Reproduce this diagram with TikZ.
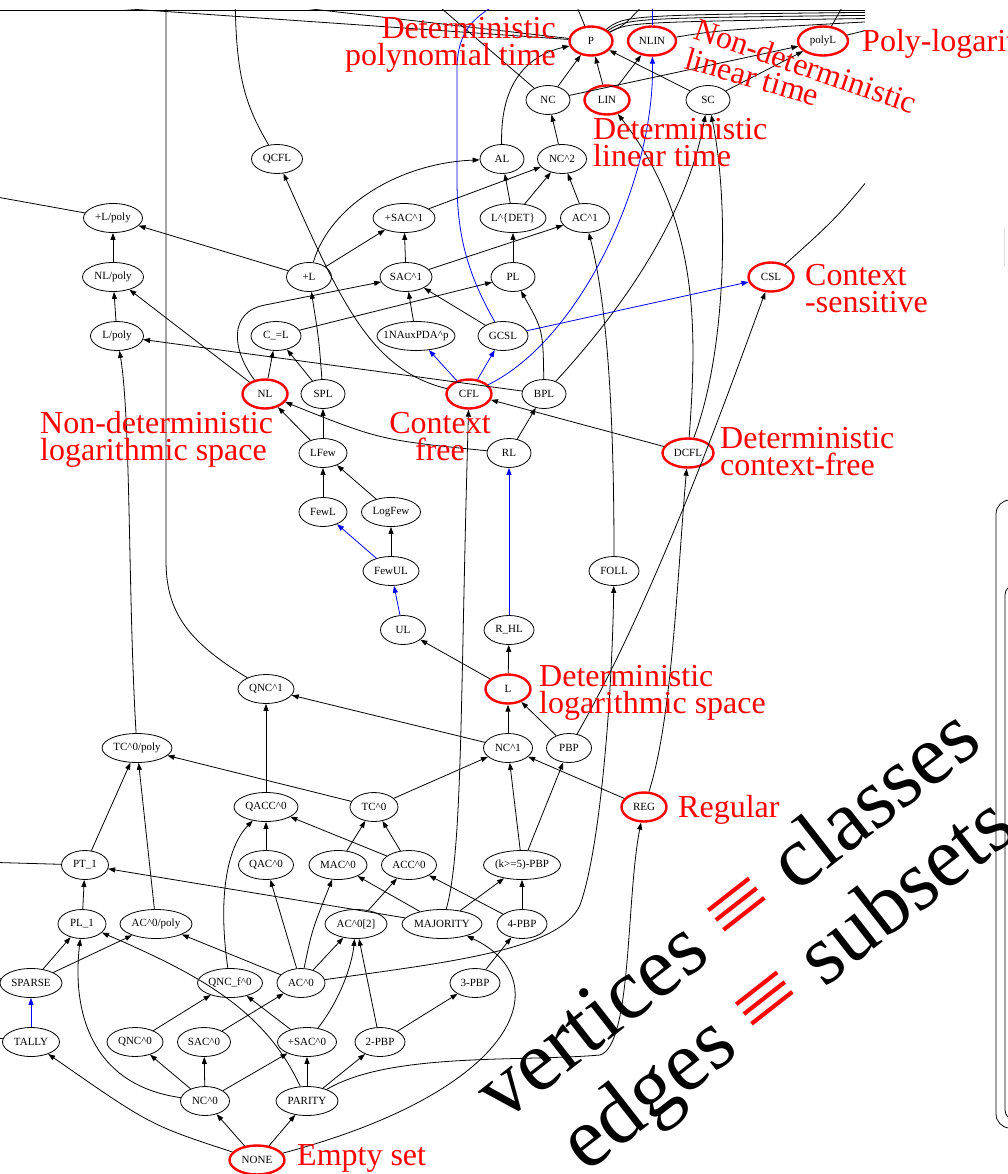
\documentclass[tikz,border=0pt]{standalone}
\usepackage{fontspec}
\setmainfont{Liberation Serif}
\usetikzlibrary{shapes.geometric,arrows.meta}
\newcommand{\caret}{\textasciicircum}
\newcommand{\redeq}{\textcolor{red}{\scalebox{1.3}[1]{≡}}}
\tikzset{
  subarrow/.style={-{Triangle[length=7pt,width=5pt]}, line width=0.8pt},
  bluearrow/.style={subarrow, draw=blue},
  stub/.style={line width=0.8pt},
  classnode/.style={draw, ellipse, line width=0.8pt, minimum height=29pt, inner xsep=-12pt, inner ysep=-4pt, font=\fontsize{11}{13}\selectfont},
  keyclass/.style={classnode, draw=red, line width=2.4pt},
  redlabel/.style={text=red, inner sep=0pt, font=\fontsize{32}{27}\selectfont},
  bigtext/.style={inner sep=0pt, rotate=38, anchor=base west, font=\fontsize{86}{86}\selectfont}
}
\begin{document}
\begin{tikzpicture}[x=1pt, y=-1pt]
  \useasboundingbox (0,0) rectangle (1008,1174);
  % classes, top to bottom
  \node[keyclass, minimum width=43pt] (p) at (591,41) {P};
  \node[keyclass, minimum width=48pt] (nlin) at (652,41) {NLIN};
  \node[keyclass, minimum width=50pt] (polyl) at (823,41) {polyL};
  \node[classnode, minimum width=44pt] (nc) at (548,100) {NC};
  \node[keyclass, minimum width=45pt] (lin) at (607,100) {LIN};
  \node[classnode, minimum width=44pt] (sc) at (708,100) {SC};
  \node[classnode, minimum width=51pt] (qcfl) at (277,159) {QCFL};
  \node[classnode, minimum width=44pt] (al) at (502,159) {AL};
  \node[classnode, minimum width=49pt] (nctwo) at (562,159) {NC\caret2};
  \node[classnode, minimum width=59pt] (plpoly) at (113,218) {+L/poly};
  \node[classnode, minimum width=62pt] (psacone) at (404,218) {+SAC\caret1};
  \node[classnode, minimum width=66pt] (ldet) at (513,218) {L\caret\{DET\}};
  \node[classnode, minimum width=49pt] (acone) at (585,218) {AC\caret1};
  \node[classnode, minimum width=61pt] (nlpoly) at (113,277) {NL/poly};
  \node[classnode, minimum width=45pt] (plusl) at (309,277) {+L};
  \node[classnode, minimum width=52pt] (sacone) at (406,277) {SAC\caret1};
  \node[classnode, minimum width=44pt] (pl) at (513,277) {PL};
  \node[keyclass, minimum width=45pt] (csl) at (771,277) {CSL};
  \node[classnode, minimum width=53pt] (lpoly) at (117,336) {L/poly};
  \node[classnode, minimum width=50pt] (ceql) at (276,336) {C\_=L};
  \node[classnode, minimum width=78pt] (onenaux) at (416,336) {1NAuxPDA\caret p};
  \node[classnode, minimum width=50pt] (gcsl) at (503,336) {GCSL};
  \node[keyclass, minimum width=45pt] (nl) at (265,394) {NL};
  \node[classnode, minimum width=44pt] (spl) at (323,394) {SPL};
  \node[keyclass, minimum width=45pt] (cfl) at (469,394) {CFL};
  \node[classnode, minimum width=44pt] (bpl) at (544,394) {BPL};
  \node[classnode, minimum width=48pt] (lfew) at (323,453) {LFew};
  \node[classnode, minimum width=44pt] (rl) at (509,453) {RL};
  \node[keyclass, minimum width=51pt] (dcfl) at (688,453) {DCFL};
  \node[classnode, minimum width=48pt] (fewl) at (323,512) {FewL};
  \node[classnode, minimum width=59pt] (logfew) at (391,512) {LogFew};
  \node[classnode, minimum width=56pt] (fewul) at (391,571) {FewUL};
  \node[classnode, minimum width=50pt] (foll) at (614,571) {FOLL};
  \node[classnode, minimum width=45pt] (ul) at (403,630) {UL};
  \node[classnode, minimum width=50pt] (rhl) at (509,630) {R\_HL};
  \node[classnode, minimum width=56pt] (qncone) at (266,689) {QNC\caret1};
  \node[keyclass, minimum width=45pt] (l) at (508,689) {L};
  \node[classnode, minimum width=70pt] (tczpoly) at (137,748) {TC\caret0/poly};
  \node[classnode, minimum width=49pt] (ncone) at (508,748) {NC\caret1};
  \node[classnode, minimum width=45pt] (pbp) at (569,748) {PBP};
  \node[classnode, minimum width=64pt] (qacczero) at (266,807) {QACC\caret0};
  \node[classnode, minimum width=48pt] (tczero) at (374,807) {TC\caret0};
  \node[keyclass, minimum width=45pt] (reg) at (644,807) {REG};
  \node[classnode, minimum width=47pt] (ptone) at (85,865) {PT\_1};
  \node[classnode, minimum width=55pt] (qaczero) at (266,865) {QAC\caret0};
  \node[classnode, minimum width=58pt] (maczero) at (338,865) {MAC\caret0};
  \node[classnode, minimum width=55pt] (acczero) at (409,865) {ACC\caret0};
  \node[classnode, minimum width=77pt] (kpbp) at (522,865) {(k>=5)-PBP};
  \node[classnode, minimum width=48pt] (plone) at (82,924) {PL\_1};
  \node[classnode, minimum width=72pt] (aczpoly) at (156,924) {AC\caret0/poly};
  \node[classnode, minimum width=62pt] (aczt) at (356,924) {AC\caret0[2]};
  \node[classnode, minimum width=80pt] (majority) at (442,924) {MAJORITY};
  \node[classnode, minimum width=50pt] (pbpfour) at (522,924) {4-PBP};
  \node[classnode, minimum width=62pt] (sparse) at (31,983) {SPARSE};
  \node[classnode, minimum width=65pt] (qncfz) at (230,983) {QNC\_f\caret0};
  \node[classnode, minimum width=48pt] (aczero) at (301,983) {AC\caret0};
  \node[classnode, minimum width=50pt] (pbpthree) at (475,983) {3-PBP};
  \node[classnode, minimum width=57pt] (tally) at (31,1042) {TALLY};
  \node[classnode, minimum width=56pt] (qnczero) at (135,1042) {QNC\caret0};
  \node[classnode, minimum width=53pt] (saczero) at (204,1042) {SAC\caret0};
  \node[classnode, minimum width=59pt] (psaczero) at (307,1042) {+SAC\caret0};
  \node[classnode, minimum width=50pt] (pbptwo) at (380,1042) {2-PBP};
  \node[classnode, minimum width=49pt] (nczero) at (205,1101) {NC\caret0};
  \node[classnode, minimum width=62pt] (parity) at (307,1101) {PARITY};
  \node[keyclass, minimum width=55pt] (none) at (257,1160) {NONE};
  % free ends beyond the crop
  \coordinate (topq) at (166,-20);
  \coordinate (topqcfl) at (235,-20);
  \coordinate (topnc) at (420,-10);
  \coordinate (pfar) at (0,0);
  \coordinate (pnear) at (233,0);
  \coordinate (ptop) at (570,-10);
  \coordinate (pup) at (652,-5);
  \coordinate (pra) at (900,12);
  \coordinate (prb) at (900,15);
  \coordinate (prc) at (900,18);
  \coordinate (nlinr) at (900,20);
  \coordinate (nlinup) at (652,-10);
  \coordinate (polyup) at (852,-10);
  \coordinate (polyr) at (900,22);
  \coordinate (cslr) at (900,140);
  \coordinate (gcslup) at (505,0);
  \coordinate (plpolyl) at (-20,194);
  \coordinate (ptonel) at (-20,862);
  \coordinate (sparsel) at (-20,976);
  \coordinate (tallyl) at (-20,1036);
  \begin{scope}
    \clip (0,10) rectangle (865,1174);
    % bottom rows
    \draw[subarrow] (none) .. controls (150,1125) .. (tally);
    \draw[subarrow] (none) -- (nczero);
    \draw[subarrow] (none) -- (parity);
    \draw[subarrow] (none) .. controls (520,1090) and (560,980) .. (majority);
    \draw[bluearrow] (tally) -- (sparse);
    \draw[subarrow] (sparse) -- (plone);
    \draw[subarrow] (sparse) -- (aczpoly);
    \draw[subarrow] (nczero) -- (qnczero);
    \draw[subarrow] (nczero) -- (saczero);
    \draw[subarrow] (nczero) -- (psaczero);
    \draw[subarrow] (nczero) .. controls (90,1085) and (72,1010) .. (plone);
    \draw[subarrow] (parity) -- (psaczero);
    \draw[subarrow] (parity) -- (pbptwo);
    \draw[subarrow] (parity) .. controls (265,1010) and (200,975) .. (plone);
    \draw[subarrow] (parity) .. controls (390,1052) and (520,1062) .. (600,1055) .. controls (632,1045) and (626,900) .. (reg);
    \draw[subarrow] (qnczero) -- (qncfz);
    \draw[subarrow] (saczero) -- (aczero);
    \draw[subarrow] (psaczero) -- (qncfz);
    \draw[subarrow] (psaczero) .. controls (340,1000) and (352,965) .. (aczt);
    \draw[subarrow] (pbptwo) -- (aczt);
    \draw[subarrow] (pbptwo) -- (pbpthree);
    \draw[subarrow] (pbpthree) -- (pbpfour);
    \draw[subarrow] (pbpfour) -- (kpbp);
    \draw[subarrow] (pbpfour) -- (acczero);
    \draw[subarrow] (aczero) -- (aczpoly);
    \draw[subarrow] (aczero) -- (qaczero);
    \draw[subarrow] (aczero) .. controls (312,930) .. (maczero);
    \draw[subarrow] (aczero) -- (aczt);
    \draw[subarrow] (aczero) .. controls (450,962) and (560,950) .. (580,905) .. controls (600,850) and (612,700) .. (foll);
    \draw[subarrow] (qncfz) .. controls (218,900) and (226,848) .. (qacczero);
    \draw[subarrow] (qaczero) -- (qacczero);
    \draw[subarrow] (acczero) -- (qacczero);
    \draw[subarrow] (maczero) -- (tczero);
    \draw[subarrow] (acczero) -- (tczero);
    \draw[subarrow] (aczt) -- (acczero);
    \draw[subarrow] (majority) -- (ptone);
    \draw[subarrow] (majority) -- (maczero);
    \draw[subarrow] (majority) -- (kpbp);
    \draw[subarrow] (majority) .. controls (463,850) and (460,700) .. (cfl);
    \draw[subarrow] (plone) -- (ptone);
    \draw[subarrow] (ptone) -- (tczpoly);
    \draw[subarrow] (aczpoly) -- (tczpoly);
    \draw[subarrow] (tczero) -- (tczpoly);
    \draw[subarrow] (tczero) -- (ncone);
    \draw[subarrow] (qacczero) -- (qncone);
    \draw[subarrow] (kpbp) -- (ncone);
    \draw[subarrow] (kpbp) -- (pbp);
    \draw[subarrow] (reg) -- (ncone);
    \draw[subarrow] (reg) .. controls (672,720) and (677,580) .. (dcfl);
    \draw[subarrow] (pbp) .. controls (660,590) and (740,360) .. (csl);
    % middle rows
    \draw[subarrow] (ncone) -- (qncone);
    \draw[subarrow] (ncone) -- (l);
    \draw[subarrow] (pbp) -- (l);
    \draw[subarrow] (l) -- (ul);
    \draw[subarrow] (l) -- (rhl);
    \draw[bluearrow] (rhl) -- (rl);
    \draw[bluearrow] (ul) -- (fewul);
    \draw[bluearrow] (fewul) -- (fewl);
    \draw[subarrow] (fewul) -- (logfew);
    \draw[subarrow] (fewl) -- (lfew);
    \draw[subarrow] (logfew) -- (lfew);
    \draw[subarrow] (lfew) -- (nl);
    \draw[subarrow] (lfew) -- (spl);
    \draw[subarrow] (rl) .. controls (380,440) .. (nl);
    \draw[subarrow] (rl) -- (bpl);
    \draw[subarrow] (dcfl) -- (cfl);
    \draw[subarrow] (dcfl) .. controls (697,330) and (700,220) .. (lin);
    \draw[subarrow] (dcfl) .. controls (727,350) and (729,200) .. (sc);
    \draw[subarrow] (bpl) .. controls (640,290) and (690,200) .. (sc);
    \draw[subarrow] (bpl) .. controls (543,330) .. (pl);
    \draw[subarrow] (bpl) -- (lpoly);
    \draw[subarrow] (foll) .. controls (614,400) and (606,300) .. (acone);
    \draw[bluearrow] (cfl) .. controls (580,340) and (655,180) .. (nlin);
    \draw[bluearrow] (cfl) -- (onenaux);
    \draw[bluearrow] (cfl) -- (gcsl);
    \draw[subarrow] (cfl) .. controls (370,370) and (340,300) .. (qcfl);
    \draw[bluearrow] (gcsl) -- (csl);
    \draw[subarrow] (gcsl) -- (sacone);
    \draw[subarrow] (onenaux) -- (sacone);
    \draw[subarrow] (nl) -- (nlpoly);
    \draw[subarrow] (nl) -- (ceql);
    \draw[subarrow] (nl) .. controls (232,350) and (228,312) .. (265,305) -- (sacone);
    \draw[subarrow] (spl) -- (ceql);
    \draw[subarrow] (spl) .. controls (319,340) .. (plusl);
    \draw[subarrow] (ceql) -- (pl);
    \draw[subarrow] (tczpoly) .. controls (128,600) and (131,420) .. (lpoly);
    % upper rows
    \draw[subarrow] (lpoly) -- (nlpoly);
    \draw[subarrow] (nlpoly) -- (plpoly);
    \draw[subarrow] (plusl) -- (plpoly);
    \draw[subarrow] (plusl) -- (psacone);
    \draw[subarrow] (plusl) .. controls (330,205) and (400,163) .. (al);
    \draw[subarrow] (sacone) -- (psacone);
    \draw[subarrow] (sacone) -- (acone);
    \draw[subarrow] (psacone) -- (nctwo);
    \draw[subarrow] (ldet) -- (al);
    \draw[subarrow] (ldet) -- (nctwo);
    \draw[subarrow] (pl) -- (ldet);
    \draw[subarrow] (acone) -- (nctwo);
    \draw[subarrow] (nctwo) -- (nc);
    \draw[subarrow] (al) .. controls (500,80) and (530,55) .. (p);
    \draw[subarrow] (nc) -- (p);
    \draw[subarrow] (lin) -- (p);
    \draw[subarrow] (lin) -- (nlin);
    \draw[subarrow] (nc) -- (polyl);
    \draw[subarrow] (sc) -- (p);
    \draw[subarrow] (sc) -- (polyl);
    % edges leaving the crop
    \draw[stub] (qncone) .. controls (185,640) and (166,610) .. (166,560) -- (topq);
    \draw[stub] (qcfl) .. controls (242,100) and (235,70) .. (topqcfl);
    \draw[stub] (nc) -- (topnc);
    \draw[stub] (p) -- (pfar);
    \draw[stub] (p) -- (pnear);
    \draw[stub] (p) -- (ptop);
    \draw[stub] (p) .. controls (625,25) .. (pup);
    \draw[stub] (p) .. controls (625,15) .. (pra);
    \draw[stub] (p) .. controls (628,18) .. (prb);
    \draw[stub] (p) .. controls (630,22) .. (prc);
    \draw[stub] (nlin) .. controls (720,30) .. (nlinr);
    \draw[stub, blue] (nlin) -- (nlinup);
    \draw[stub] (polyl) -- (polyup);
    \draw[stub] (polyl) -- (polyr);
    \draw[stub] (csl) .. controls (840,215) .. (cslr);
    \draw[stub, blue] (gcsl) .. controls (465,270) and (457,230) .. (457,180) -- (457,70) .. controls (457,30) and (475,15) .. (gcslup);
    \draw[stub] (plpoly) -- (plpolyl);
    \draw[stub] (ptone) -- (ptonel);
    \draw[stub] (sparse) -- (sparsel);
    \draw[stub] (tally) -- (tallyl);
  \end{scope}
  \draw[stub] (0,10) -- (865,10);
  % red names of the classes (anchored on the last line)
  \node[redlabel, align=right, anchor=base east] (lbp) at (556,66) {Deterministic\\polynomial time};
  \node[redlabel, rotate=-19, anchor=base west] (lbnlina) at (692,38) {Non-deterministic};
  \node[redlabel, rotate=-16, anchor=base west] (lbnlinb) at (683,68) {linear time};
  \node[redlabel, anchor=base west] (lbpolyl) at (862,52) {Poly-logarithmic};
  \node[redlabel, align=left, anchor=base west] (lblin) at (593,167) {Deterministic\\linear time};
  \node[redlabel, align=left, anchor=base west] (lbcsl) at (805,312) {Context\\-sensitive};
  \node[redlabel, align=left, anchor=base west] (lbnl) at (40,460) {Non-deterministic\\logarithmic space};
  \node[redlabel, align=center, anchor=base] (lbcfl) at (440,460) {Context\\free};
  \node[redlabel, align=left, anchor=base west] (lbdcfl) at (720,475) {Deterministic\\context-free};
  \node[redlabel, align=left, anchor=base west] (lbl) at (539,713) {Deterministic\\logarithmic space};
  \node[redlabel, anchor=base west] (lbreg) at (678,817) {Regular};
  \node[redlabel, anchor=base west] (lbnone) at (297,1165) {Empty set};
  % legend
  \node[bigtext] (vtx) at (502,1124) {vertices \redeq{} classes};
  \node[bigtext] (edg) at (586,1174) {edges \redeq{} subsets};
  % frame on the right
  \draw[stub, rounded corners=14pt] (1030,500) -- (996,500) -- (996,1128) -- (1030,1128);
  \draw[stub, rounded corners=10pt] (1030,585) -- (1005,585) -- (1005,1120) -- (1030,1120);
  \draw[gray!25, line width=1pt] (1004,228) -- (1004,266);
\end{tikzpicture}
\end{document}
